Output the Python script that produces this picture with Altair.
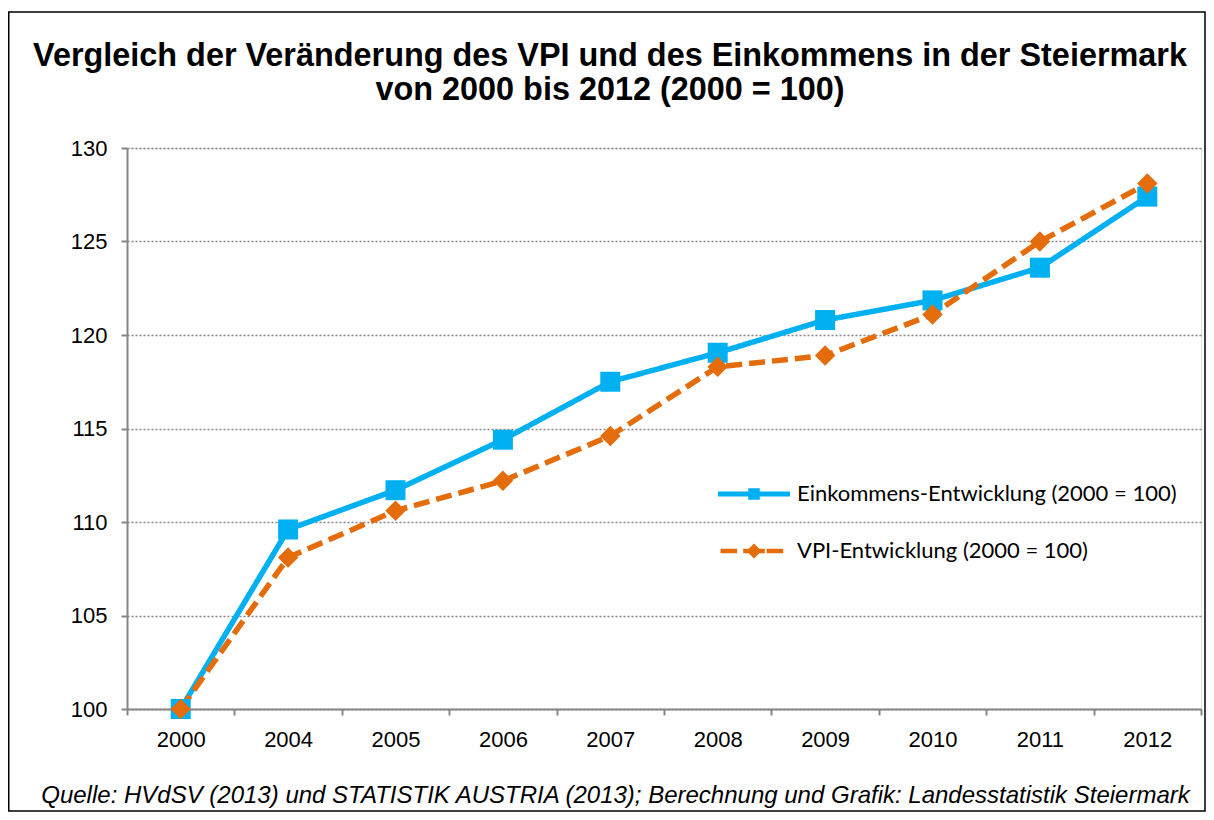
import altair as alt
import pandas as pd

# ---- data ----
years = ["2000", "2004", "2005", "2006", "2007", "2008", "2009", "2010", "2011", "2012"]
einkommen = [100.0, 109.6, 111.7, 114.4, 117.5, 119.05, 120.8, 121.85, 123.6, 127.4]
vpi = [100.0, 108.1, 110.6, 112.2, 114.6, 118.3, 118.9, 121.1, 125.0, 128.1]
series_names = ["Einkommens-Entwicklung (2000 = 100)", "VPI-Entwicklung (2000 = 100)"]
series_keys = ["EK", "VPI"]
y_ticks = [100, 105, 110, 115, 120, 125, 130]

title_lines = [
    "Vergleich der Veränderung des VPI und des Einkommens in der Steiermark",
    "von 2000 bis 2012 (2000 = 100)",
]
source_note = ("Quelle: HVdSV (2013) und STATISTIK AUSTRIA (2013); "
               "Berechnung und Grafik: Landesstatistik Steiermark")

# ---- styles ----
colors = ["#00B0F0", "#E46C0A"]
dashes = [[1, 0], [16, 7]]
legend_paths = [
    "M-1,-0.07H1V0.07H-1Z M-0.16,-0.16H0.16V0.16H-0.16Z",
    "M-0.93,-0.065H-0.47V0.065H-0.93Z M-0.3,-0.065H0.3V0.065H-0.3Z "
    "M0,-0.21L0.21,0L0,0.21L-0.21,0Z M0.35,-0.065H0.81V0.065H0.35Z",
]
AXIS_GREY = "#868686"
FONT = "Liberation Sans"

PLOT_W, PLOT_H = 1074, 561
PAD = {"left": 119, "top": 140, "right": 5, "bottom": 103}

rows = []
for name, key, vals in zip(series_names, series_keys, [einkommen, vpi]):
    for yr, v in zip(years, vals):
        rows.append({"Jahr": yr, "Wert": v, "Reihe": name, "Key": key})
df = pd.DataFrame(rows)

x_enc = alt.X(
    "Jahr:N", sort=years, bandPosition=0.5,
    scale=alt.Scale(type="band", paddingInner=0, paddingOuter=0),
    axis=alt.Axis(
        title=source_note, titleFont=FONT, titleFontStyle="italic",
        titleFontWeight="normal", titleFontSize=24, titleColor="black",
        titleX=488, titleY=86, titleAlign="center", titleBaseline="middle",
        labelFont=FONT, labelFontSize=22, labelColor="black", labelPadding=14,
        labelAngle=0, tickBand="extent", tickSize=6, tickColor=AXIS_GREY,
        tickWidth=2, domainColor=AXIS_GREY, domainWidth=2, grid=False,
    ),
)
y_enc = alt.Y(
    "Wert:Q",
    scale=alt.Scale(domain=[100, 130], nice=False, zero=False),
    axis=alt.Axis(
        values=y_ticks, title=None, labelFont=FONT, labelFontSize=22,
        labelColor="black", labelPadding=14, tickSize=6, tickColor=AXIS_GREY,
        tickWidth=2, domainColor=AXIS_GREY, domainWidth=2, grid=True,
        gridDash=[2, 2], gridColor=AXIS_GREY, gridWidth=1.3,
    ),
)
key_color_scale = alt.Scale(domain=series_keys, range=colors)
legend_fill_scale = alt.Scale(domain=series_names, range=colors)
shape_scale = alt.Scale(domain=series_names, range=legend_paths)

legend_def = alt.Legend(
    title=None, orient="none", legendX=591, legendY=310, padding=0,
    symbolSize=5184, symbolStrokeWidth=0, labelFont="Lato", labelFontSize=22,
    labelColor="black", labelOffset=7, rowPadding=10, labelLimit=0,
)

border = alt.Chart(alt.Data(values=[{"k": 1}])).mark_rect(
    filled=False, stroke="black", strokeWidth=1.5
).encode(
    x=alt.value(-118.25), x2=alt.value(PLOT_W + 4),
    y=alt.value(-136), y2=alt.value(PLOT_H + 102),
)

lines = alt.Chart(df).mark_line(strokeWidth=5.5).encode(
    x=x_enc, y=y_enc,
    color=alt.Color("Key:N", scale=key_color_scale, legend=None),
    strokeDash=alt.StrokeDash("Key:N", scale=alt.Scale(domain=series_keys, range=dashes), legend=None),
)

squares = alt.Chart(df).transform_filter(
    alt.datum.Key == series_keys[0]
).mark_point(filled=True, opacity=1, size=400, shape="square").encode(
    x=x_enc, y=y_enc,
    color=alt.Color("Key:N", scale=key_color_scale, legend=None),
)

diamonds = alt.Chart(df).transform_filter(
    alt.datum.Key == series_keys[1]
).mark_point(filled=True, opacity=1, size=420, shape="diamond").encode(
    x=x_enc, y=y_enc,
    color=alt.Color("Key:N", scale=key_color_scale, legend=None),
)

legend_layer = alt.Chart(df).transform_filter("false").mark_point(
    filled=True, opacity=1, size=5184
).encode(
    x=x_enc, y=y_enc,
    fill=alt.Fill("Reihe:N", scale=legend_fill_scale, legend=legend_def),
    shape=alt.Shape("Reihe:N", scale=shape_scale, legend=legend_def),
)

chart = alt.layer(border, lines, squares, diamonds, legend_layer).properties(
    width=PLOT_W, height=PLOT_H,
    autosize=alt.AutoSizeParams(type="none"),
    padding=PAD,
    title=alt.Title(
        title_lines, font=FONT, fontSize=32.4, fontWeight="bold", color="black",
        lineHeight=34, anchor="middle", dx=-54, offset=-95,
    ),
).configure_view(stroke=None).configure(background="white")

chart.save("out.html", embed_options={"renderer": "svg", "actions": False})
